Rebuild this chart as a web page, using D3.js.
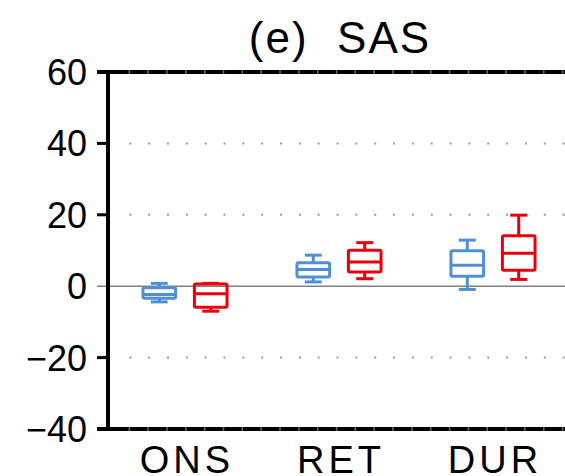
<!DOCTYPE html>
<html><head><meta charset="utf-8">
<script src="https://cdn.jsdelivr.net/npm/d3@7"></script>
<style>body{margin:0;background:#fff}svg{display:block}</style>
</head><body>
<script>
const categories = ["ONS", "RET", "DUR"];
const seriesNames = ["blue", "red"];
const seriesColors = ["#4f8fd8", "#e8000b"];
// box statistics per series, per category
const blueMin = [-4.4, 1.2, -0.9];
const blueQ1  = [-3.4, 2.6, 2.8];
const blueMed = [-2.3, 4.7, 5.9];
const blueQ3  = [-0.4, 6.6, 9.9];
const blueMax = [0.8, 8.7, 12.9];
const redMin = [-7.0, 2.1, 1.9];
const redQ1  = [-5.9, 4.0, 4.5];
const redMed = [-2.1, 6.8, 9.2];
const redQ3  = [0.6, 10.1, 14.1];
const redMax = [0.8, 12.2, 19.9];
const yTicks = [-40, -20, 0, 20, 40, 60];
const gridValues = [-20, 20, 40];
const title = "(e)  SAS";

(function () {
const W = 565, H = 476;
const svg = d3.select("body").append("svg").attr("width", W).attr("height", H);
const pL = 108, pT = 72, pB = 429, pR = 570;
const x = d3.scaleLinear().domain([0, 3]).range([pL, pR]);
const y = d3.scaleLinear().domain([-40, 60]).range([pB, pT]);
const font = "'Liberation Sans', Arial, sans-serif";

// dotted grid
const g = svg.append("g");
gridValues.forEach(v => {
  g.append("line").attr("x1", pL + 21.3).attr("x2", W).attr("y1", y(v)).attr("y2", y(v))
    .attr("stroke", "#9a9a9a").attr("stroke-width", 2).attr("stroke-dasharray", "2,16.84");
});
// zero line
g.append("line").attr("x1", pL - 11).attr("x2", W).attr("y1", y(0)).attr("y2", y(0))
  .attr("stroke", "#808080").attr("stroke-width", 1.5);

// boxes
const stats = [
  {min: blueMin, q1: blueQ1, med: blueMed, q3: blueQ3, max: blueMax},
  {min: redMin, q1: redQ1, med: redMed, q3: redQ3, max: redMax}
];
const offsets = [-0.167, 0.167];
const boxW = 0.212, capW = 0.11;
stats.forEach((s, si) => {
  const col = seriesColors[si];
  const bg = svg.append("g").attr("stroke", col).attr("stroke-width", 3).attr("fill", "none");
  categories.forEach((c, i) => {
    const cx = i + 0.5 + offsets[si];
    const x0 = x(cx - boxW / 2), x1 = x(cx + boxW / 2);
    const cx0 = x(cx - capW / 2), cx1 = x(cx + capW / 2);
    bg.append("line").attr("x1", x(cx)).attr("x2", x(cx)).attr("y1", y(s.max[i])).attr("y2", y(s.q3[i]));
    bg.append("line").attr("x1", x(cx)).attr("x2", x(cx)).attr("y1", y(s.q1[i])).attr("y2", y(s.min[i]));
    bg.append("line").attr("x1", cx0).attr("x2", cx1).attr("y1", y(s.max[i])).attr("y2", y(s.max[i]));
    bg.append("line").attr("x1", cx0).attr("x2", cx1).attr("y1", y(s.min[i])).attr("y2", y(s.min[i]));
    bg.append("rect").attr("x", x0).attr("y", y(s.q3[i])).attr("width", x1 - x0)
      .attr("height", y(s.q1[i]) - y(s.q3[i])).attr("rx", 1.5);
    bg.append("line").attr("x1", x0).attr("x2", x1).attr("y1", y(s.med[i])).attr("y2", y(s.med[i]));
  });
});

// axes frame
const ax = svg.append("g").attr("stroke", "#000").attr("stroke-width", 4);
ax.append("line").attr("x1", pL).attr("x2", pL).attr("y1", pT - 2).attr("y2", pB + 2);
ax.append("line").attr("x1", pL - 11).attr("x2", W).attr("y1", pT).attr("y2", pT);
ax.append("line").attr("x1", pL - 11).attr("x2", W).attr("y1", pB).attr("y2", pB);
// left ticks
yTicks.forEach(v => {
  if (v === 0) return;
  ax.append("line").attr("x1", pL - 11).attr("x2", pL).attr("y1", y(v)).attr("y2", y(v)).attr("stroke-width", 3);
});
// minor notches on top/bottom axes
const minor = d3.range(0, 24).map(k => pL + 21.3 + k * 18.84).filter(v => v < W);
[pT, pB].forEach(yy => {
  svg.append("g").selectAll("line").data(minor).join("line")
    .attr("x1", d => d).attr("x2", d => d).attr("y1", yy - 2).attr("y2", yy + 2)
    .attr("stroke", "#666").attr("stroke-width", 1.5);
});

// y tick labels
svg.append("g").selectAll("text").data(yTicks).join("text")
  .attr("x", pL - 21).attr("y", d => y(d)).attr("dy", "0.36em")
  .attr("text-anchor", "end").attr("font-family", font).attr("font-size", 36)
  .text(d => d < 0 ? "\u2212" + Math.abs(d) : d);

// category labels
svg.append("g").selectAll("text").data(categories).join("text")
  .attr("x", (d, i) => x(i + 0.5) + 2).attr("y", 473)
  .attr("text-anchor", "middle").attr("font-family", font).attr("font-size", 38)
  .attr("letter-spacing", 4).text(d => d);

// title
svg.append("text").attr("x", 340).attr("y", 53).attr("text-anchor", "middle")
  .attr("font-family", font).attr("font-size", 44).attr("letter-spacing", 2)
  .attr("xml:space", "preserve").style("white-space", "pre").text(title);
})();
</script>
</body></html>
